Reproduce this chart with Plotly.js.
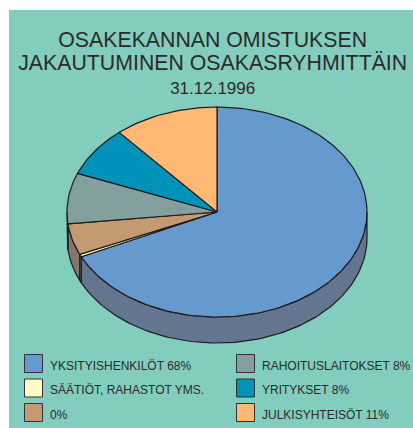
<!DOCTYPE html>
<html><head><meta charset="utf-8">
<script src="https://cdn.plot.ly/plotly-3.0.1.min.js"></script>
<style>html,body{margin:0;padding:0;background:#fff}#c{width:413px;height:428px}</style></head>
<body><div id="c"></div><script>
// Slice data, clockwise from 12 o'clock
const categories = ["YKSITYISHENKILÖT 68%","SÄÄTIÖT, RAHASTOT YMS.","0%","RAHOITUSLAITOKSET 8%","YRITYKSET 8%","JULKISYHTEISÖT 11%"];
const shares = [68.0,0.4,4.8,7.8,7.7,11.3];
const topColors = ["#6699CE","#FFFBC6","#C49A72","#84A09E","#0092B8","#FFB974"];
const sideColors = ["#64758F","#99967A","#85766A","#5E7270","#006A85","#A67A4C"];
const legendColumn = [0,0,0,1,1,1];
const legendRow = [0,1,2,0,1,2];

// Geometry of the tilted pie in axis units
const cx=217, cy=212, rx=150, ry=105, depth=26, ink="#1c1c1c", textInk="#2b2b2b";
const total = shares.reduce((a,b)=>a+b,0);
const pt=(deg,dy=0)=>{const t=deg*Math.PI/180;return [cx+rx*Math.sin(t), cy-ry*Math.cos(t)+dy];};
const arc=(a,b,dy=0)=>{const out=[];const n=Math.max(2,Math.ceil(Math.abs(b-a)/1.5));
  for(let i=0;i<=n;i++)out.push(pt(a+(b-a)*i/n,dy));return out;};
const traces=[];
const poly=(pts,fill,w)=>traces.push({type:"scatter",mode:"lines",x:pts.map(p=>p[0]),y:pts.map(p=>p[1]),
  fill:"toself",fillcolor:fill,line:{color:ink,width:w},hoverinfo:"skip",showlegend:false});

let acc=0; const spans=shares.map(s=>{const a=acc/total*360;acc+=s;return [a,acc/total*360];});
// Side wall: only the near half of the rim (90..270 degrees) is visible
spans.forEach(([a,b],i)=>{const s=Math.max(a,90),e=Math.min(b,270);
  if(e>s)poly(arc(s,e).concat(arc(e,s,depth)).concat([pt(s)]),sideColors[i],1.2);});
// Top surface
spans.forEach(([a,b],i)=>{poly([[cx,cy]].concat(arc(a,b)).concat([[cx,cy]]),topColors[i],1.2);});
// Legend swatches
const colX=[33.5,245.5], rowY=[363.5,388,412.5], textX=[50,262];
categories.forEach((c,i)=>traces.push({type:"scatter",mode:"markers",name:c,
  x:[colX[legendColumn[i]]],y:[rowY[legendRow[i]]],
  marker:{symbol:"square",size:18,color:topColors[i],line:{color:"#333",width:1}},hoverinfo:"name",showlegend:false}));
const annotations=categories.map((c,i)=>({x:textX[legendColumn[i]],y:rowY[legendRow[i]],text:c,xref:"x",yref:"y",
  xanchor:"left",yanchor:"middle",showarrow:false,xshift:-2,yshift:-2,font:{family:"Liberation Sans",size:12,color:textInk}}));

Plotly.newPlot("c",traces,{
  width:413,height:428,margin:{l:9,r:0,t:10,b:0},
  paper_bgcolor:"#ffffff",plot_bgcolor:"#82CDBD",showlegend:false,
  title:{text:'<span style="font-size:21.3px">OSAKEKANNAN OMISTUKSEN</span><br><span style="font-size:21.3px">JAKAUTUMINEN OSAKASRYHMITTÄIN</span><br><span style="font-size:17px">31.12.1996</span>',
    font:{family:"Liberation Sans",size:18.2,color:textInk},x:0.515,xanchor:"center",y:0.891,yanchor:"top"},
  xaxis:{range:[9,413],visible:false,fixedrange:true},
  yaxis:{range:[428,10],visible:false,fixedrange:true},
  annotations
},{staticPlot:true});
</script></body></html>
